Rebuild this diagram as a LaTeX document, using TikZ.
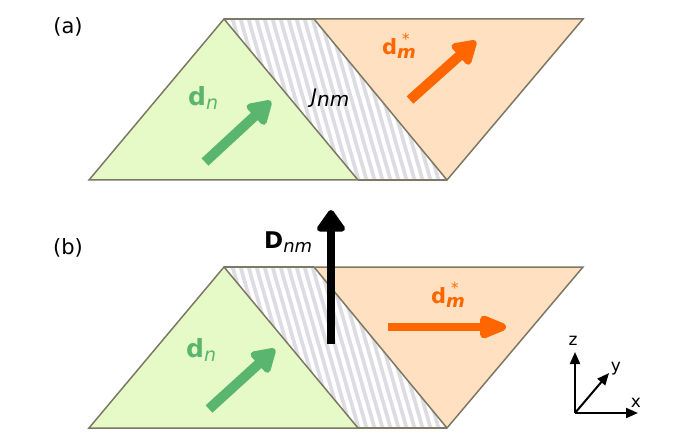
\documentclass[tikz,border=0pt]{standalone}
\usepackage{fontspec}
\setmainfont{DejaVu Sans}
\usetikzlibrary{arrows.meta}
\definecolor{gfill}{RGB}{230,250,200}
\definecolor{ofill}{RGB}{255,224,192}
\definecolor{edge}{RGB}{125,120,100}
\definecolor{garrow}{RGB}{90,182,110}
\definecolor{oarrow}{RGB}{255,102,0}
\definecolor{hatch}{RGB}{220,220,226}
\tikzset{
  tri/.style={draw=edge, line width=1.5pt, line join=miter},
  garr/.style={draw=garrow, line width=10pt, -{Triangle[length=26pt,width=30pt,round]}},
  oarr/.style={draw=oarrow, line width=10pt, -{Triangle[length=26pt,width=30pt,round]}},
  lbl/.style={inner sep=0pt, font=\fontsize{21}{24}\selectfont},
  axl/.style={inner sep=0pt, font=\fontsize{17}{19}\selectfont},
  axarr/.style={line width=2pt, -{Triangle[length=12pt,width=10pt]}},
}
\newcommand{\fsz}[1]{\fontsize{#1}{#1}\selectfont}
\newcommand{\lsub}[3]{\raisebox{-#2pt}{\fsz{#1}#3}}
\begin{document}
\begin{tikzpicture}[x=1pt,y=-1pt]
\useasboundingbox (0,0) rectangle (678,441);
% ---------- panel (a) ----------
\begin{scope}
  \fill[white] (224,19) -- (314,19) -- (447,180) -- (358,180) -- cycle;
  \begin{scope}
    \clip (224,19) -- (314,19) -- (447,180) -- (358,180) -- cycle;
    \foreach \xx in {200,208,...,470} {\draw[hatch, line width=3.6pt] (\xx,185) -- ++(-50,-175);}
  \end{scope}
  \draw[tri, fill=gfill] (89,180) -- (224,19) -- (358,180) -- cycle;
  \draw[tri, fill=ofill] (314,19) -- (583,19) -- (447,180) -- cycle;
  \draw[tri] (224,19) -- (314,19);
  \draw[tri] (358,180) -- (447,180);
\end{scope}
% ---------- panel (b) ----------
\begin{scope}[yshift=-248pt]
  \fill[white] (224,19) -- (314,19) -- (447,180) -- (358,180) -- cycle;
  \begin{scope}
    \clip (224,19) -- (314,19) -- (447,180) -- (358,180) -- cycle;
    \foreach \xx in {200,208,...,470} {\draw[hatch, line width=3.6pt] (\xx,185) -- ++(-50,-175);}
  \end{scope}
  \draw[tri, fill=gfill] (89,180) -- (224,19) -- (358,180) -- cycle;
  \draw[tri, fill=ofill] (314,19) -- (583,19) -- (447,180) -- cycle;
  \draw[tri] (224,19) -- (314,19);
  \draw[tri] (358,180) -- (447,180);
\end{scope}
% ---------- arrows (a) ----------
\coordinate (ga0) at (205,162);
\coordinate (ga1) at (271,101);
\draw[garr] (ga0) -- (ga1);
\coordinate (oa0) at (410,100);
\coordinate (oa1) at (476,41);
\draw[oarr] (oa0) -- (oa1);
% ---------- arrows (b) ----------
\coordinate (gb0) at (209,409);
\coordinate (gb1) at (275,349);
\draw[garr] (gb0) -- (gb1);
\coordinate (ob0) at (388,327);
\coordinate (ob1) at (506,327);
\draw[draw=oarrow, line width=8pt, -{Triangle[length=34pt,width=24pt,round]}] (ob0) -- (ob1);
\coordinate (D0) at (331,344);
\coordinate (D1) at (331,210);
\draw[line width=8pt, -{Triangle[length=24pt,width=32pt,round]}] (D0) -- (D1);
% ---------- labels ----------
\node[lbl] (la) at (68,27) {(a)};
\node[lbl] (lb) at (68,248) {(b)};
\node[inner sep=0pt, text=garrow, anchor=base west] (dna) at (188,106) {\fsz{25}\textbf{d}\lsub{19}{4}{\itshape n}};
\node[inner sep=0pt, anchor=base west] (J) at (311,104) {\fsz{20}\itshape J\lsub{20}{3}{nm}};
\node[inner sep=0pt, text=oarrow, anchor=base west] (dma) at (382,55) {\fsz{21}\textbf{d}\rlap{\hspace{5pt}\raisebox{10pt}{\fsz{15}*}}\lsub{18}{4}{\bfseries\itshape m}};
\node[inner sep=0pt, text=garrow, anchor=base west] (dnb) at (186,357) {\fsz{25}\textbf{d}\lsub{19}{4}{\itshape n}};
\node[inner sep=0pt, text=oarrow, anchor=base west] (dmb) at (431,303) {\fsz{21}\textbf{d}\rlap{\hspace{5pt}\raisebox{10pt}{\fsz{15}*}}\lsub{18}{4}{\bfseries\itshape m}};
\node[inner sep=0pt, anchor=base west] (Dl) at (264,248) {\fsz{23}\textbf{D}\lsub{18}{4}{\itshape nm}};
% ---------- axes ----------
\coordinate (O) at (575,413);
\coordinate (Z) at (575,352);
\coordinate (X) at (638,413);
\coordinate (Y) at (609,373);
\draw[axarr] (O) -- (Z);
\draw[axarr] (O) -- (X);
\draw[axarr] (O) -- (Y);
\node[axl] (zl) at (573,341) {z};
\node[axl] (yl) at (616,369) {y};
\node[axl] (xl) at (636,403) {x};
\end{tikzpicture}
\end{document}
